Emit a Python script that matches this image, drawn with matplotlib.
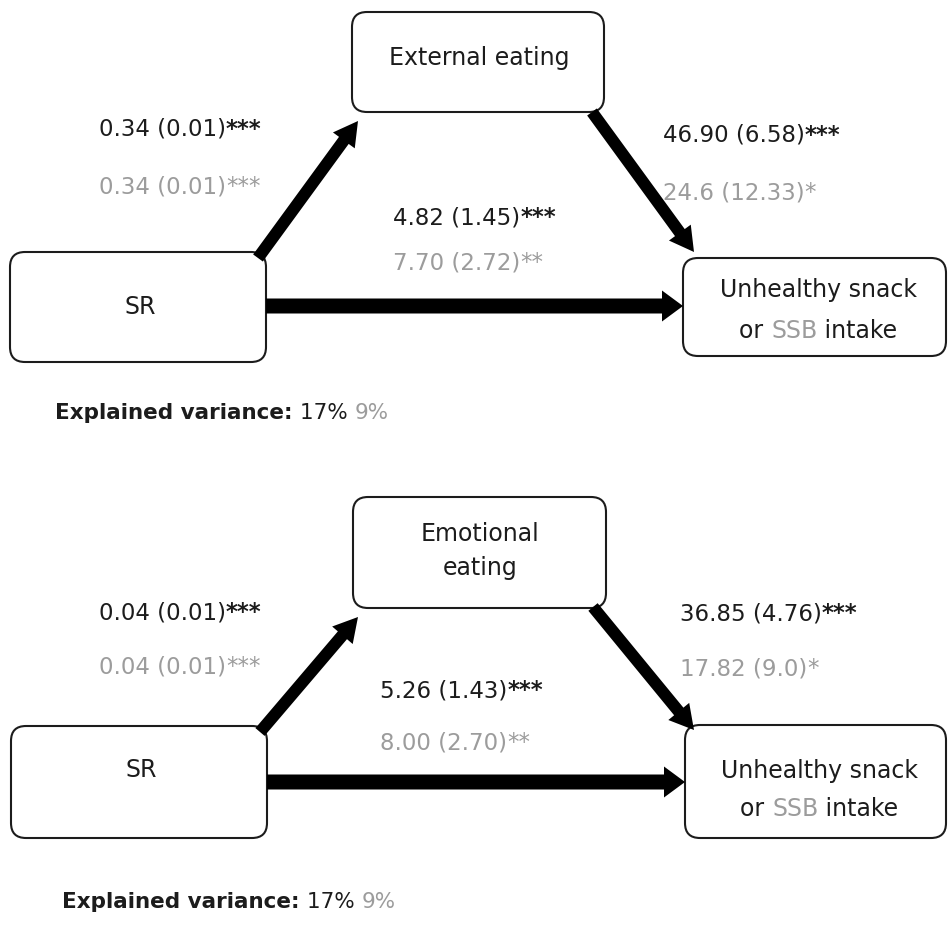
import matplotlib
matplotlib.use("Agg")
import matplotlib.pyplot as plt
from matplotlib.patches import FancyBboxPatch, FancyArrow

# Path models: SR -> mediator -> unhealthy snack / SSB intake
mediators = ["External eating", "Emotional\neating"]
outcome_lines = [["Unhealthy snack"], ["or ", "SSB", " intake"]]
predictor = "SR"

# a-path, b-path, c'-path: (snack estimate, stars, SSB estimate, stars)
a_paths = [("0.34 (0.01)", "***", "0.34 (0.01)", "***"),
           ("0.04 (0.01)", "***", "0.04 (0.01)", "***")]
b_paths = [("46.90 (6.58)", "***", "24.6 (12.33)", "*"),
           ("36.85 (4.76)", "***", "17.82 (9.0)", "*")]
c_paths = [("4.82 (1.45)", "***", "7.70 (2.72)", "**"),
           ("5.26 (1.43)", "***", "8.00 (2.70)", "**")]
explained = [("17%", "9%"), ("17%", "9%")]

BLACK = "#1c1c1c"
GREY = "#9c9c9c"
FONT = "DejaVu Sans"

fig = plt.figure(figsize=(9.49, 9.46), dpi=100)
ax = fig.add_axes([0, 0, 1, 1])
ax.set_xlim(0, 949)
ax.set_ylim(946, 0)
ax.axis("off")
fig.canvas.draw()
renderer = fig.canvas.get_renderer()


def rich_text(x, y, pieces, size, ha="left"):
    """Draw consecutive text pieces [(text, color, weight)] on one line."""
    objs = []
    for txt, col, wt in pieces:
        t = ax.text(0, y, txt, color=col, fontsize=size, fontweight=wt,
                    family=FONT, va="center_baseline", ha="left")
        objs.append(t)
    inv = ax.transData.inverted()
    widths = []
    for t in objs:
        bb = t.get_window_extent(renderer)
        widths.append(inv.transform((bb.x1, bb.y0))[0] - inv.transform((bb.x0, bb.y0))[0])
    start = x - sum(widths) / 2 if ha == "center" else x
    for t, w in zip(objs, widths):
        t.set_x(start)
        start += w


def box(x0, y0, x1, y1):
    ax.add_patch(FancyBboxPatch((x0, y0), x1 - x0, y1 - y0,
                                boxstyle="round,pad=0,rounding_size=15",
                                fc="white", ec=BLACK, lw=1.5, zorder=2))


def arrow(p0, p1, w, hw, hl):
    ax.add_patch(FancyArrow(p0[0], p0[1], p1[0] - p0[0], p1[1] - p0[1],
                            width=w, head_width=hw, head_length=hl,
                            length_includes_head=True, fc="black",
                            ec="black", lw=0, zorder=3))


LABEL = 17
NUM = 16.5

layouts = [
    dict(med=(352, 12, 604, 112), sr=(10, 252, 266, 362), out=(683, 258, 946, 356),
         a_arrow=((258, 258), (358, 121)), b_arrow=((592, 112), (694, 252)), c_y=306,
         med_y=58, sr_y=307, out_y=(287, 328),
         a_txt=(99, 127, 184), b_txt=(663, 133, 663, 190), c_txt=(393, 215, 260),
         ev=(55, 411)),
    dict(med=(353, 497, 606, 608), sr=(11, 726, 267, 838), out=(685, 725, 946, 838),
         a_arrow=((260, 732), (358, 617)), b_arrow=((593, 607), (694, 730)), c_y=782,
         med_y=551, sr_y=770, out_y=(768, 806),
         a_txt=(99, 610, 664), b_txt=(680, 611, 680, 666), c_txt=(380, 688, 740),
         ev=(62, 900)),
]

for i, L in enumerate(layouts):
    # boxes
    box(*L["med"])
    box(*L["sr"])
    box(*L["out"])

    # arrows
    arrow(*L["a_arrow"], 12, 27, 24)
    arrow(*L["b_arrow"], 12, 27, 24)
    arrow((L["sr"][2], L["c_y"]), (L["out"][0], L["c_y"]), 15, 31, 21)

    # node labels
    mx = (L["med"][0] + L["med"][2]) / 2 + 1
    ax.text(mx, L["med_y"], mediators[i], ha="center", va="center",
            fontsize=LABEL, family=FONT, color=BLACK, linespacing=1.5)
    ax.text((L["sr"][0] + L["sr"][2]) / 2 + 2, L["sr_y"], predictor,
            ha="center", va="center", fontsize=LABEL, family=FONT, color=BLACK)
    ox = (L["out"][0] + L["out"][2]) / 2 + 4
    rich_text(ox, L["out_y"][0], [(outcome_lines[0][0], BLACK, "normal")], LABEL, "center")
    rich_text(ox, L["out_y"][1], [(outcome_lines[1][0], BLACK, "normal"),
                                  (outcome_lines[1][1], GREY, "normal"),
                                  (outcome_lines[1][2], BLACK, "normal")], LABEL, "center")

    # path coefficients
    a, b, c = a_paths[i], b_paths[i], c_paths[i]
    ax_, ay1, ay2 = L["a_txt"]
    rich_text(ax_, ay1, [(a[0], BLACK, "normal"), (a[1], BLACK, "bold")], NUM)
    rich_text(ax_, ay2, [(a[2], GREY, "normal"), (a[3], GREY, "normal")], NUM)
    bx1, by1, bx2, by2 = L["b_txt"]
    rich_text(bx1, by1, [(b[0], BLACK, "normal"), (b[1], BLACK, "bold")], NUM)
    rich_text(bx2, by2, [(b[2], GREY, "normal"), (b[3], GREY, "normal")], NUM)
    cx, cy1, cy2 = L["c_txt"]
    rich_text(cx, cy1, [(c[0], BLACK, "normal"), (c[1], BLACK, "bold")], NUM)
    rich_text(cx, cy2, [(c[2], GREY, "normal"), (c[3], GREY, "normal")], NUM)

    # explained variance note
    v1, v2 = explained[i]
    ex, ey = L["ev"]
    rich_text(ex, ey, [("Explained variance: ", BLACK, "bold"),
                       (v1 + " ", BLACK, "normal"), (v2, GREY, "normal")], 15.5)

fig.savefig("out.png", dpi=100, facecolor="white")
